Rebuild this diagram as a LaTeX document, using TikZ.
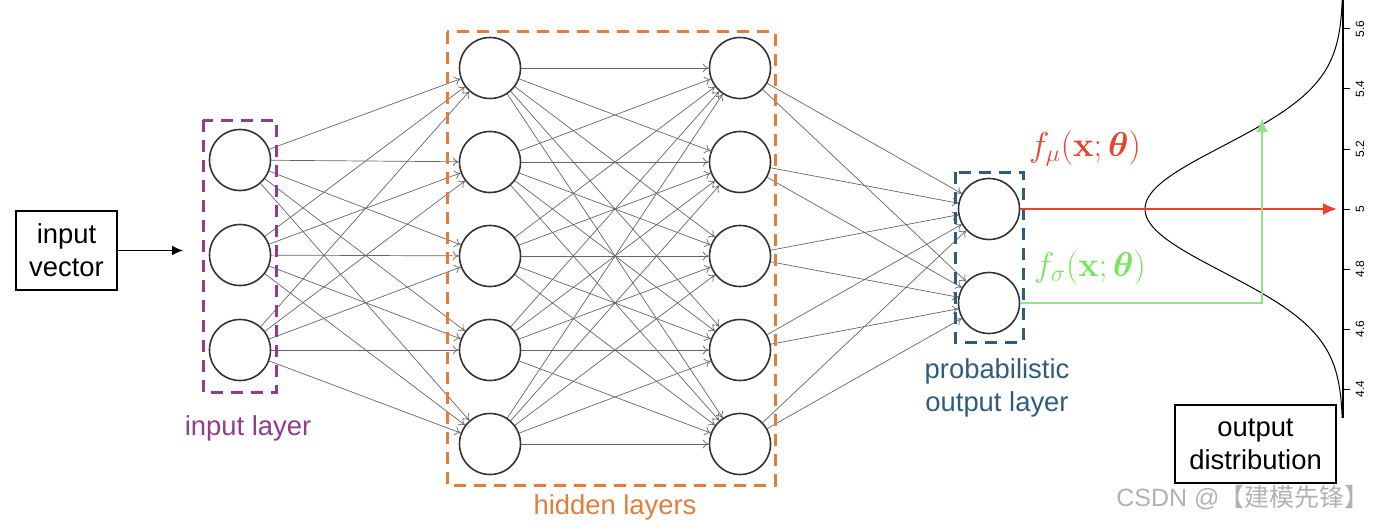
\documentclass[tikz,border=0pt]{standalone}
\usepackage{amsmath}
\usepackage{amssymb}
\usepackage[no-math]{fontspec}
\setmainfont{Liberation Sans}
\newfontfamily\cjkfont{Noto Sans CJK SC}
\usetikzlibrary{arrows.meta}
\definecolor{inpurple}{HTML}{923C8E}
\definecolor{hidorange}{HTML}{E27D3C}
\definecolor{outblue}{HTML}{2E5D7E}
\definecolor{mured}{HTML}{EB4128}
\definecolor{sigtext}{HTML}{73E65A}
\definecolor{sigline}{HTML}{96E08C}
\tikzset{
  neuron/.style = {circle, draw=black!80, line width=0.8pt,
    minimum size=30.5pt, inner sep=0pt},% neurone
  link/.style = {-{To[length=3pt,width=4.5pt]}, draw=black!60,
    line width=0.35pt},% connexion entre couches
  layerbox/.style = {line width=1.5pt, dash pattern=on 6pt off 4pt},% cadre de couche
  labeltext/.style = {font=\fontsize{13.7}{16.5}\selectfont, align=center},
  framebox/.style = {labeltext, draw=black, line width=0.6pt, inner sep=0pt},% boite texte
  formula/.style = {font=\fontsize{17.5}{20}\selectfont},
  ticklabel/.style = {font=\fontsize{6}{7}\selectfont, rotate=90, inner sep=0pt}
}
\begin{document}
\begin{tikzpicture}[x=0.5pt, y=-0.5pt]
\useasboundingbox (0,0) rectangle (1379,524);
% neurones
\foreach \y [count=\n] in {160,255,350}
  \node [neuron] (i\n) at (240,\y) {};
\foreach \y [count=\n] in {68,162,256,350,444} {
  \node [neuron] (a\n) at (490,\y) {};
  \node [neuron] (b\n) at (740,\y) {};
}
\foreach \y [count=\n] in {209,303}
  \node [neuron] (o\n) at (989,\y) {};
% connexions
\foreach \s in {1,2,3}
  \foreach \t in {1,...,5}
    \draw [link] (i\s) -- (a\t);
\foreach \s in {1,...,5}
  \foreach \t in {1,...,5}
    \draw [link] (a\s) -- (b\t);
\foreach \s in {1,...,5}
  \foreach \t in {1,2}
    \draw [link] (b\s) -- (o\t);
% cadres des couches
\draw [layerbox, inpurple] (203,120) rectangle (276,392);
\draw [layerbox, hidorange] (447,32) rectangle (775,485);
\draw [layerbox, outblue] (955,172) rectangle (1023,342);
\node [labeltext, text=inpurple] (inlab) at (248,428) {input layer};
\node [labeltext, text=hidorange] (hidlab) at (615,507) {hidden layers};
\node [labeltext, text=outblue] (outlab) at (997,388) {probabilistic\\output layer};
% entree
\node [framebox, minimum width=50.5pt, minimum height=39.5pt] (iv) at (66.5,250.5)
  {input\\vector};
\coordinate (ivtip) at (183,250.5);
\draw [-{Latex[length=5.5pt,width=5pt]}, line width=0.8pt] (iv) -- (ivtip);
% distribution de sortie
\draw [line width=0.6pt] (1343,0) -- (1343,418);
\foreach \v [count=\k from 0] in {5.6,5.4,5.2,5,4.8,4.6,4.4} {
  \draw [line width=0.5pt] (1343,29+60*\k) -- (1350,29+60*\k);
  \node [ticklabel] (t\k) at (1360,29+60*\k) {\v};
}
\draw [line width=0.5pt] plot [domain=0:418, samples=120, smooth]
  ({1343-198*exp(-0.5*((\x-209)/63)^2)}, \x);
\coordinate (mutip) at (1337,209);
\coordinate (sigtip) at (1262,118);
\draw [mured, line width=1.1pt, -{Latex[length=7pt,width=6pt]}] (o1.east) -- (mutip);
\draw [sigline, line width=1.1pt, -{Latex[length=7pt,width=6pt]}] (o2.east) -| (sigtip);
\node [formula, text=mured] (fmu) at (1085,148)
  {$f_{\mu}(\mathbf{x};\boldsymbol{\theta})$};
\node [formula, text=sigtext] (fsig) at (1090,268)
  {$f_{\sigma}(\mathbf{x};\boldsymbol{\theta})$};
\node [framebox, minimum width=80.5pt, minimum height=39pt] (od) at (1255.5,444)
  {output\\distribution};
\node [font=\fontsize{12.5}{14}\selectfont, text=black!30] (wm) at (1243,498)
  {CSDN @{\cjkfont 【建模先锋】}};
\end{tikzpicture}
\end{document}
